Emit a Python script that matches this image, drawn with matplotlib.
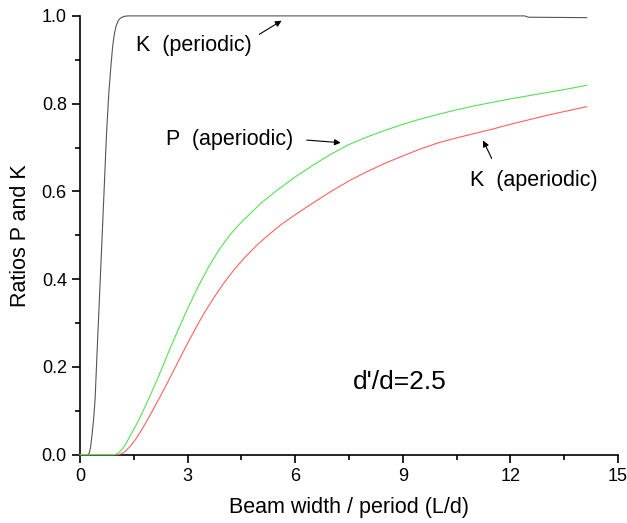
import matplotlib
matplotlib.use('Agg')
import matplotlib.pyplot as plt
from matplotlib.ticker import MultipleLocator, FormatStrFormatter

plt.rcParams['font.family'] = ['Liberation Sans', 'DejaVu Sans']

# K (periodic)
k_per_x = [0, 0.22, 0.26, 0.30, 0.34, 0.38, 0.42, 0.49, 0.58, 0.66, 0.74, 0.80, 0.86,
           0.91, 0.96, 1.01, 1.07, 1.13, 1.2, 1.27, 1.35, 2.0, 5.0, 8.0, 12.4, 12.5, 14.13]
k_per_y = [0, 0, 0.004, 0.02, 0.049, 0.082, 0.125, 0.26, 0.428, 0.58, 0.732, 0.82, 0.884,
           0.93, 0.96, 0.978, 0.99, 0.995, 0.998, 0.9995, 1.0, 1.0, 1.0, 1.0, 1.0, 0.997, 0.996]

# P (aperiodic)
p_ap_x = [0, 0.95, 1.0, 1.1, 1.2, 1.3, 1.44, 1.6, 1.75, 1.9, 2.1, 2.3, 2.5, 2.75, 3.0,
          3.3, 3.6, 3.9, 4.2, 4.5, 4.8, 5.1, 5.5, 6.0, 6.5, 7.0, 7.5, 8.0, 8.5, 9.0,
          9.5, 10.0, 10.5, 11.0, 11.5, 12.0, 12.5, 13.0, 13.5, 14.13]
p_ap_y = [0, 0, 0.001, 0.006, 0.015, 0.028, 0.049, 0.073, 0.098, 0.125, 0.161, 0.200,
          0.240, 0.287, 0.333, 0.384, 0.430, 0.470, 0.503, 0.530, 0.554, 0.577, 0.603,
          0.633, 0.660, 0.685, 0.707, 0.724, 0.739, 0.753, 0.765, 0.776, 0.786, 0.795,
          0.803, 0.811, 0.818, 0.825, 0.832, 0.842]

# K (aperiodic)
k_ap_x = [0, 1.05, 1.15, 1.25, 1.4, 1.55, 1.7, 1.85, 2.0, 2.2, 2.4, 2.6, 2.8, 3.0, 3.25,
          3.5, 3.75, 4.0, 4.3, 4.6, 4.9, 5.2, 5.6, 6.0, 6.5, 7.0, 7.5, 8.0, 8.5, 9.0,
          9.5, 10.0, 10.5, 11.0, 11.5, 12.0, 12.5, 13.0, 13.5, 14.13]
k_ap_y = [0, 0, 0.002, 0.007, 0.019, 0.035, 0.054, 0.075, 0.097, 0.127, 0.158, 0.190,
          0.222, 0.254, 0.292, 0.328, 0.360, 0.390, 0.422, 0.450, 0.475, 0.497, 0.524,
          0.547, 0.574, 0.600, 0.624, 0.645, 0.664, 0.681, 0.697, 0.711, 0.722, 0.732,
          0.742, 0.753, 0.763, 0.773, 0.782, 0.793]

fig = plt.figure(figsize=(6.27, 5.23), dpi=100)
ax = fig.add_axes([0.1276, 0.1306, 0.858, 0.839])

ax.plot(k_per_x, k_per_y, color='#555555', lw=0.8, clip_on=False, zorder=3)
ax.plot(k_ap_x, k_ap_y, color='#ff6060', lw=0.8, clip_on=False, zorder=3)
ax.plot(p_ap_x, p_ap_y, color='#55e055', lw=0.8, clip_on=False, zorder=4)

ax.set_xlim(0, 15)
ax.set_ylim(0, 1.0)
ax.xaxis.set_major_locator(MultipleLocator(3))
ax.xaxis.set_minor_locator(MultipleLocator(1.5))
ax.yaxis.set_major_locator(MultipleLocator(0.2))
ax.yaxis.set_minor_locator(MultipleLocator(0.1))
ax.yaxis.set_major_formatter(FormatStrFormatter('%.1f'))

for s in ['top', 'right']:
    ax.spines[s].set_visible(False)
for s in ['left', 'bottom']:
    ax.spines[s].set_linewidth(1.2)
ax.tick_params(which='major', direction='out', length=6, width=1.2, labelsize=13)
ax.tick_params(which='minor', direction='out', length=3.5, width=1.2)

ax.set_xlabel('Beam width / period (L/d)', fontsize=15.5, labelpad=9)
ax.set_ylabel('Ratios P and K', fontsize=15.5, labelpad=8)

arrow = dict(arrowstyle='-|>', color='black', lw=0.8, mutation_scale=9, shrinkA=0, shrinkB=0)
ax.text(1.56, 0.933, 'K  (periodic)', fontsize=15.5, va='center', ha='left')
ax.annotate('', xy=(5.62, 0.989), xytext=(5.0, 0.958), arrowprops=arrow)
ax.text(2.41, 0.718, 'P  (aperiodic)', fontsize=15.5, va='center', ha='left')
ax.annotate('', xy=(7.27, 0.711), xytext=(6.32, 0.717), arrowprops=arrow)
ax.text(10.87, 0.626, 'K  (aperiodic)', fontsize=15.5, va='center', ha='left')
ax.annotate('', xy=(11.24, 0.716), xytext=(11.48, 0.675), arrowprops=arrow)
ax.text(7.62, 0.166, "d'/d=2.5", fontsize=19, va='center', ha='left')

fig.savefig('out.png', dpi=100)
